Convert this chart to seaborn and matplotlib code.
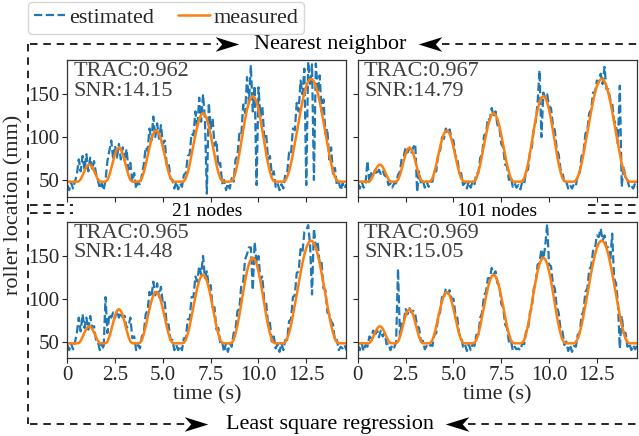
import numpy as np
import matplotlib
matplotlib.use("Agg")
import matplotlib.pyplot as plt
from matplotlib.lines import Line2D
from matplotlib.path import Path
import seaborn as sns

# sampling grid (s)
time = np.round(np.arange(147) * 0.1, 1)

measured = [48, 48, 48, 48, 48, 48,
            48.3, 50.9, 55.4, 60.6, 65.1, 67.7, 67.7, 65.1, 60.6, 55.4, 50.9, 48.3, 48,
            48, 48,
            50, 55.6, 63.6, 72.4, 80.4, 86, 88, 86, 80.4, 72.4, 63.6, 55.6, 50, 48,
            48, 48, 48,
            48.5, 52, 58.8, 67.8, 78, 88.2, 97.2, 104, 107.5, 107.5, 104, 97.2, 88.2, 78,
            67.8, 58.8, 52, 48.5, 48,
            48, 48, 48, 48,
            48.5, 52, 58.9, 68, 79.2, 91, 102.4, 112.8, 121, 126.2, 128, 126.2, 121, 112.8,
            102.4, 91, 79.2, 68, 58.9, 52, 48.5, 48,
            48, 48, 48,
            48.5, 52, 59.4, 69, 81, 94.6, 108, 120.9, 132, 140.7, 146, 148, 146, 140.7, 132,
            120.9, 108, 94.6, 81, 69, 59.4, 52, 48.5, 48,
            48, 48, 48, 48,
            49.4, 53.5, 60, 69.2, 80.4, 92.4, 104.9, 117.6, 130, 141.6, 151.4, 159.5, 164.9,
            167.6, 167.6, 164.9, 159.5, 151.4, 141.6, 130, 117.6, 104.9, 92.4, 80.4, 69.2,
            60, 53.5, 49.4, 48,
            48, 48, 48, 48]

est_nn_21 = [44, 38, 47, 40, 48, 56, 74, 60, 78, 62,
             80, 60, 76, 62, 72, 58, 50, 40, 46, 38,
             50, 72, 84, 96, 74, 90, 76, 92, 74, 88,
             72, 86, 62, 70, 48, 58, 40, 48, 44, 56,
             68, 88, 84, 110, 96, 124, 100, 116, 98, 114,
             92, 96, 68, 70, 52, 50, 40, 48, 39, 46,
             42, 56, 58, 78, 80, 104, 102, 130, 110, 146,
             118, 150, 120, 34, 140, 110, 122, 90, 96, 66,
             70, 46, 50, 38, 46, 40, 52, 48, 74, 78,
             104, 102, 138, 128, 170, 140, 184, 130, 160, 44,
             158, 124, 136, 100, 104, 74, 78, 56, 60, 42,
             46, 38, 45, 40, 56, 58, 82, 80, 110, 108,
             140, 130, 166, 150, 180, 44, 188, 160, 185, 50,
             186, 152, 172, 130, 144, 104, 110, 74, 88, 56,
             64, 44, 48, 38, 46, 40, 45]

est_nn_101 = [46, 40, 48, 41, 46, 72, 48, 58, 54, 62,
              56, 62, 57, 61, 55, 54, 44, 46, 41, 46,
              46, 56, 60, 76, 78, 88, 82, 87, 82, 88,
              92, 36, 60, 46, 49, 41, 48, 42, 48, 48,
              60, 60, 80, 84, 100, 98, 110, 104, 109, 98,
              96, 78, 76, 58, 58, 44, 47, 40, 48, 41,
              48, 45, 58, 58, 76, 80, 102, 104, 122, 120,
              134, 124, 130, 114, 112, 92, 88, 68, 66, 50,
              54, 42, 46, 41, 44, 39, 48, 46, 60, 62,
              82, 88, 110, 118, 140, 178, 100, 152, 146, 150,
              136, 134, 114, 108, 86, 80, 62, 60, 46, 48,
              40, 44, 40, 45, 43, 56, 58, 78, 82, 104,
              108, 128, 132, 152, 152, 166, 164, 174, 162, 182,
              156, 156, 144, 140, 120, 114, 92, 160, 42, 66,
              50, 50, 41, 43, 40, 46, 42]

est_lsr_21 = [46, 40, 48, 41, 49, 60, 78, 62, 82, 66,
              78, 64, 80, 66, 68, 52, 50, 40, 48, 41,
              102, 60, 82, 78, 84, 78, 86, 78, 84, 78,
              80, 66, 68, 78, 54, 56, 40, 46, 42, 56,
              60, 82, 86, 108, 102, 120, 104, 118, 102, 114,
              94, 96, 70, 70, 52, 52, 40, 46, 40, 45,
              40, 54, 54, 76, 76, 102, 102, 126, 120, 138,
              128, 150, 124, 132, 114, 116, 90, 90, 64, 66,
              48, 50, 38, 48, 38, 48, 44, 60, 64, 86,
              88, 116, 120, 146, 152, 160, 160, 110, 166, 142,
              150, 122, 126, 98, 96, 70, 72, 50, 56, 42,
              47, 38, 48, 40, 52, 52, 74, 76, 102, 104,
              130, 132, 158, 154, 178, 180, 186, 162, 105, 182,
              160, 166, 140, 142, 112, 110, 84, 82, 74, 70,
              50, 52, 40, 44, 42, 46, 40]

est_lsr_101 = [46, 40, 48, 39, 46, 44, 56, 54, 63, 56,
               64, 55, 63, 56, 60, 47, 48, 40, 46, 43,
               50, 135, 56, 74, 74, 88, 82, 89, 84, 86,
               82, 68, 66, 50, 51, 41, 45, 43, 46, 45,
               58, 60, 80, 84, 102, 100, 112, 106, 110, 100,
               100, 82, 78, 58, 57, 44, 47, 39, 47, 40,
               47, 45, 58, 58, 78, 84, 104, 108, 124, 124,
               136, 128, 132, 118, 116, 94, 90, 70, 66, 50,
               52, 40, 44, 41, 42, 40, 48, 47, 62, 64,
               84, 90, 112, 118, 140, 142, 158, 146, 162, 187,
               140, 138, 118, 112, 90, 84, 64, 62, 46, 50,
               39, 46, 38, 45, 44, 58, 60, 80, 86, 108,
               112, 134, 138, 156, 158, 174, 172, 182, 168, 174,
               160, 160, 144, 176, 124, 118, 96, 42, 80, 60,
               60, 44, 48, 40, 46, 41, 45]

trac = ['0.962', '0.967', '0.965', '0.969']
snr = ['14.15', '14.79', '14.48', '15.05']
node_labels = ['21 nodes', '101 nodes']
method_labels = ['Nearest neighbor', 'Least square regression']
xticks = [0, 2.5, 5.0, 7.5, 10.0, 12.5]
xtick_labels = ['0', '2.5', '5.0', '7.5', '10.0', '12.5']

sns.set_style('ticks')
plt.rcParams['font.family'] = ['Liberation Serif', 'DejaVu Sans']
plt.rcParams['text.color'] = '.15'

W, H = 639, 436
fig, axes = plt.subplots(2, 2, figsize=(W / 100, H / 100), dpi=100,
                         sharex=True, sharey=True)
fig.subplots_adjust(left=0.1053, right=0.9969, top=0.8624, bottom=0.1782,
                    wspace=0.041, hspace=0.183)

blue, orange = '#1f77b4', '#ff7f0e'
ests = [est_nn_21, est_nn_101, est_lsr_21, est_lsr_101]
for ax, est, tr, sn in zip(axes.flat, ests, trac, snr):
    sns.lineplot(x=time, y=est, ax=ax, color=blue, linestyle='--', lw=1.6)
    sns.lineplot(x=time, y=measured, ax=ax, color=orange, lw=1.8)
    ax.text(0.022, 0.985, 'TRAC:{}\nSNR:{}'.format(tr, sn), transform=ax.transAxes,
            va='top', ha='left', fontsize=16, color='.25', linespacing=1.05)
    ax.set_xlim(0, 14.6)
    ax.set_ylim(30.5, 190)
    ax.set_yticks([50, 100, 150])
    ax.set_xticks(xticks)
    ax.set_xticklabels(xtick_labels)
    ax.tick_params(length=3.5, width=0.8, labelsize=15, pad=2)
    for sp in ax.spines.values():
        sp.set_color('.2')
        sp.set_linewidth(0.9)

for ax in axes[1]:
    ax.set_xlabel('time (s)', fontsize=16, labelpad=0)

fig.text(14 / W, 1 - 205 / H, 'roller location (mm)', rotation=90,
         ha='center', va='center', fontsize=16)

handles = [Line2D([], [], color=blue, ls='--', lw=1.6),
           Line2D([], [], color=orange, lw=1.8)]
fig.legend(handles, ['estimated', 'measured'], loc='upper left',
           bbox_to_anchor=(28 / W, 1 - 2 / H), ncol=2, fontsize=16,
           frameon=True, fancybox=True, edgecolor='0.8', handlelength=1.4,
           handletextpad=0.2, columnspacing=1.1, borderpad=0.25, borderaxespad=0)

# notched arrowheads for the bracket lines
head_r = Path([(1, 0), (-1, 0.62), (-0.45, 0), (-1, -0.62), (1, 0)],
              [Path.MOVETO, Path.LINETO, Path.LINETO, Path.LINETO, Path.CLOSEPOLY])
head_l = Path([(-1, 0), (1, 0.62), (0.45, 0), (1, -0.62), (-1, 0)],
              [Path.MOVETO, Path.LINETO, Path.LINETO, Path.LINETO, Path.CLOSEPOLY])


def dline(x0, y0, x1, y1):
    fig.add_artist(Line2D([x0 / W, x1 / W], [1 - y0 / H, 1 - y1 / H],
                          transform=fig.transFigure, color='k', lw=1.2,
                          ls=(0, (4.5, 3.5))))


def head(x, y, path):
    fig.add_artist(Line2D([x / W], [1 - y / H], transform=fig.transFigure,
                          ls='none', marker=path, markersize=17,
                          color='k', markeredgewidth=0))


def bracket(y, label, left_end, right_start, arrow_r, arrow_l):
    dline(30, y, left_end, y)
    dline(right_start, y, 639, y)
    head(arrow_r, y, head_r)
    head(arrow_l, y, head_l)
    fig.text(330 / W, 1 - y / H, label, ha='center', va='center',
             fontsize=16, color='k')


bracket(44, method_labels[0], 218, 442, 227, 430)
bracket(424, method_labels[1], 186, 468, 196, 457)
dline(28, 44, 28, 424)

for y in (205, 213):
    dline(30, y, 73, y)
    dline(588, y, 639, y)

for ax, lab in zip(axes[1], node_labels):
    pos = ax.get_position()
    fig.text((pos.x0 + pos.x1) / 2, 1 - 211 / H, lab, ha='center', va='center',
             fontsize=14, color='k')

fig.savefig('out.png', dpi=100)
